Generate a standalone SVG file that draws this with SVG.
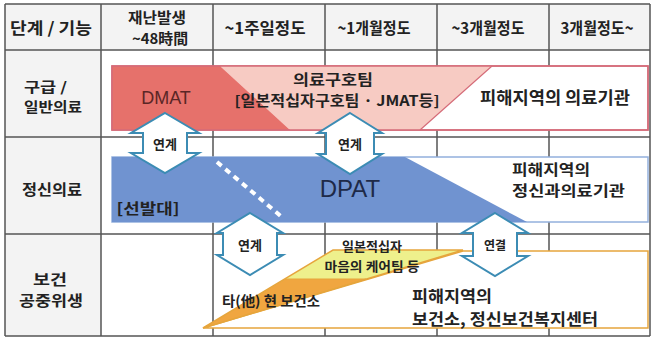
<svg xmlns="http://www.w3.org/2000/svg" width="654" height="345" viewBox="0 0 654 345">
<style>
text{font-family:"Noto Sans CJK KR","Noto Sans",sans-serif;font-weight:700;fill:#222;dominant-baseline:central;text-anchor:middle}
.hd{font-size:16px}
.rl{font-size:15px}
.grid{stroke:#555;stroke-width:1.5;fill:none}
.arrow{fill:#fff;stroke:#3c8cb4;stroke-width:2;stroke-linejoin:miter}
.al{font-size:13px}
.lat{font-family:"Liberation Sans",Arial,sans-serif;font-weight:400}
</style>
<rect x="0" y="0" width="654" height="345" fill="#fff"/>
<g id="table">
<rect x="5" y="4" width="645" height="46" fill="#f3f3f3"/>
<rect x="5" y="50" width="96" height="286" fill="#f3f3f3"/>
<path class="grid" d="M5 4H650M5 50H650M5 137H650M5 234H650M5 336H650M5 4V336M101 4V336M213 4V336M325 4V336M437 4V336M549 4V336M650 4V336"/>
</g>
<g id="header">
<text class="hd" x="51" y="27" textLength="82" lengthAdjust="spacingAndGlyphs">단계 / 기능</text>
<text class="hd" x="157" y="16.5" style="font-size:14.3px" textLength="58" lengthAdjust="spacingAndGlyphs">재난발생</text>
<text class="hd" x="160" y="37.5" style="font-size:14.3px" textLength="56" lengthAdjust="spacingAndGlyphs">~48時間</text>
<text class="hd" x="265" y="27" textLength="81" lengthAdjust="spacingAndGlyphs">~1주일정도</text>
<text class="hd" x="374" y="27" textLength="73" lengthAdjust="spacingAndGlyphs">~1개월정도</text>
<text class="hd" x="488" y="27" textLength="73" lengthAdjust="spacingAndGlyphs">~3개월정도</text>
<text class="hd" x="597" y="27" textLength="73" lengthAdjust="spacingAndGlyphs">3개월정도~</text>
</g>
<g id="row-labels">
<text class="rl" x="24" y="86" style="text-anchor:start;font-size:13.6px" textLength="43" lengthAdjust="spacingAndGlyphs">구급 /</text>
<text class="rl" x="24" y="106" style="text-anchor:start;font-size:13.6px" textLength="58" lengthAdjust="spacingAndGlyphs">일반의료</text>
<text class="rl" x="52" y="188" textLength="60" lengthAdjust="spacingAndGlyphs">정신의료</text>
<text class="rl" x="50" y="278" style="font-size:14.3px" textLength="34" lengthAdjust="spacingAndGlyphs">보건</text>
<text class="rl" x="51" y="299" style="font-size:14.3px" textLength="64" lengthAdjust="spacingAndGlyphs">공중위생</text>
</g>
<g id="emergency-band">
<rect x="112" y="66" width="536" height="64" fill="#fff" stroke="#d56b78" stroke-width="1.5"/>
<polygon points="220,66 492,66 420,130 290,130" fill="#f7cbc3"/>
<polygon points="112,66 220,66 290,130 112,130" fill="#e6716b"/>
<polyline points="492,66 420,130" fill="none" stroke="#d56b78" stroke-width="1.2"/>
<rect x="112" y="66" width="536" height="64" fill="none" stroke="#d56b78" stroke-width="1.5"/>
<text class="lat" x="166" y="98" style="font-size:18px;fill:#5a2626">DMAT</text>
<text x="333" y="78" style="font-size:14.3px" textLength="80" lengthAdjust="spacingAndGlyphs">의료구호팀</text>
<text x="337" y="99" style="font-size:14.3px" textLength="205" lengthAdjust="spacingAndGlyphs">[일본적십자구호팀 · JMAT등]</text>
<text x="555" y="96" style="font-size:17px" textLength="150" lengthAdjust="spacingAndGlyphs">피해지역의 의료기관</text>
</g>
<g id="psychiatric-band">
<rect x="112" y="157" width="536" height="65" fill="#fff" stroke="#93b0dd" stroke-width="1.5"/>
<polygon points="112,157 405,157 527,222 112,222" fill="#7093d0"/>
<line x1="217" y1="162" x2="283" y2="218" stroke="#fff" stroke-width="4" stroke-dasharray="6 5"/>
<text class="lat" x="350" y="188" style="font-size:24px;fill:#1e2a48">DPAT</text>
<text x="148" y="207" style="font-size:15px" textLength="63" lengthAdjust="spacingAndGlyphs">[선발대]</text>
<text x="512" y="168.5" style="font-size:14.3px;text-anchor:start" textLength="78" lengthAdjust="spacingAndGlyphs">피해지역의</text>
<text x="512" y="189.5" style="font-size:14.3px;text-anchor:start" textLength="113" lengthAdjust="spacingAndGlyphs">정신과의료기관</text>
</g>
<g id="public-health-band">
<polygon points="203,328 463,251 648,251 648,328" fill="#fff" stroke="#e6a53c" stroke-width="1.5"/>
<polygon points="285,279 333,250 463,250 366,279" fill="#eef08c"/>
<polygon points="203,328 285,279 366,279" fill="#f0a640"/>
<polygon points="203,328 333,250 463,250" fill="none" stroke="#e6a53c" stroke-width="1.5"/>
<line x1="285" y1="279" x2="366" y2="279" stroke="#e6a53c" stroke-width="1"/>
<text x="372" y="245" style="font-size:13px" textLength="60" lengthAdjust="spacingAndGlyphs">일본적십자</text>
<text x="372" y="265" style="font-size:13px" textLength="95" lengthAdjust="spacingAndGlyphs">마음의 케어팀 등</text>
<text x="271" y="300" style="font-size:14px" textLength="98" lengthAdjust="spacingAndGlyphs">타(他) 현 보건소</text>
<text x="412" y="295" style="font-size:15.8px;text-anchor:start" textLength="80" lengthAdjust="spacingAndGlyphs">피해지역의</text>
<text x="412" y="318" style="font-size:15.8px;text-anchor:start" textLength="186" lengthAdjust="spacingAndGlyphs">보건소, 정신보건복지센터</text>
</g>
<g id="connectors">
<g id="link-1">
<polygon class="arrow" points="165,113 199,133 187,133 187,153 199,153 165,173 131,153 143,153 143,133 131,133"/>
<text class="al" x="165" y="143">연계</text>
</g>
<g id="link-2">
<polygon class="arrow" points="350,113 382,133 374,133 374,154 382,154 350,174 318,154 326,154 326,133 318,133"/>
<text class="al" x="350" y="143">연계</text>
</g>
<g id="link-3">
<polygon class="arrow" points="250,213 283,233 277,233 277,255 283,255 250,275 217,255 223,255 223,233 217,233"/>
<text class="al" x="250" y="244">연계</text>
</g>
<g id="link-4">
<polygon class="arrow" points="495,213 528,233 517,233 517,256 528,256 495,276 462,256 473,256 473,233 462,233"/>
<text class="al" x="495" y="244" style="font-size:12px">연결</text>
</g>
</g>
</svg>
